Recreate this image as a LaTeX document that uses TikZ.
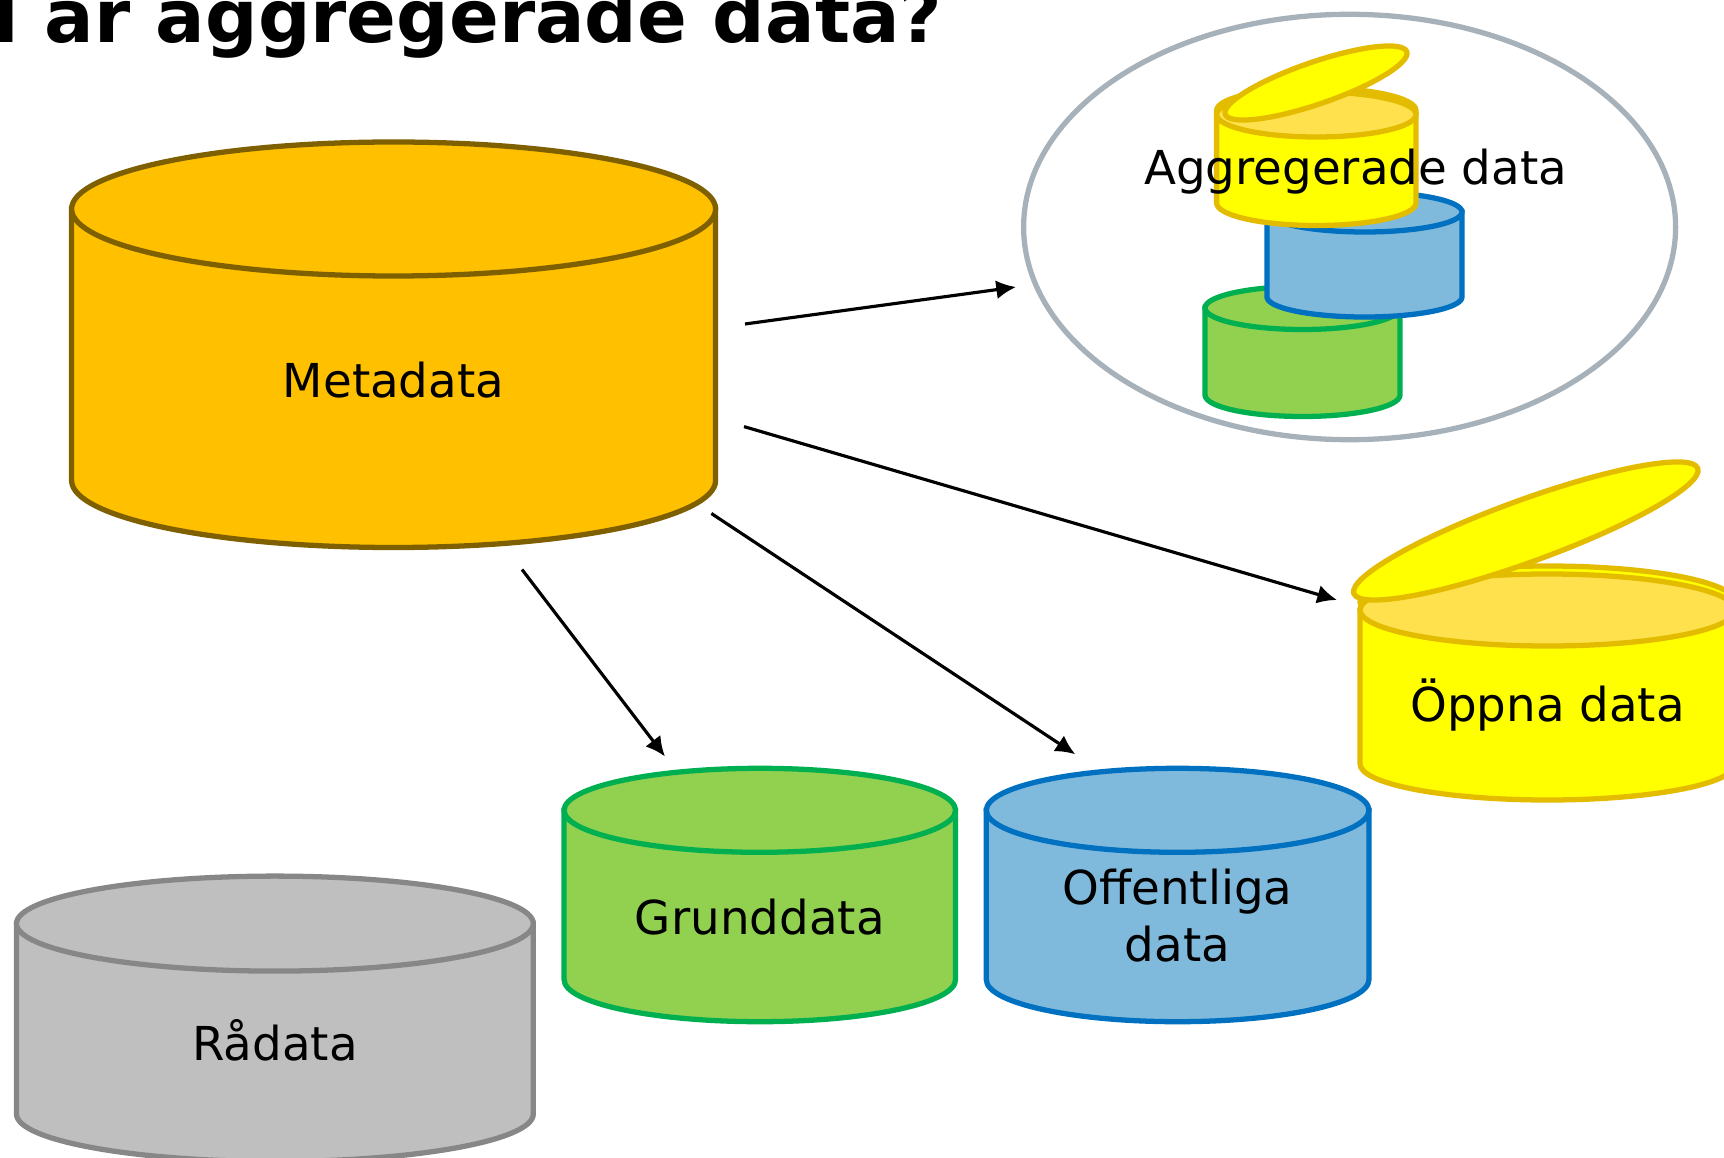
\documentclass[tikz,border=0pt]{standalone}
\usepackage{fontspec}
\setmainfont{DejaVu Sans}
\usetikzlibrary{arrows.meta}

\definecolor{metafill}{HTML}{FFC000}
\definecolor{metaedge}{HTML}{7F6000}
\definecolor{grundfill}{HTML}{92D050}
\definecolor{grundedge}{HTML}{00B050}
\definecolor{offfill}{HTML}{7FBADC}
\definecolor{offedge}{HTML}{0070C0}
\definecolor{rawfill}{HTML}{BFBFBF}
\definecolor{rawedge}{HTML}{878787}
\definecolor{openfill}{HTML}{FFFF00}
\definecolor{opentop}{HTML}{FFE14D}
\definecolor{openedge}{HTML}{E3BC00}
\definecolor{ringedge}{HTML}{A6B1BA}

% can: cx, top y, bottom y, x radius, y radius, fill, edge, top fill
\newcommand{\drum}[8]{%
	\filldraw[fill=#6, draw=#7] (#1-#4,#2) -- (#1-#4,#3)
		arc[start angle=180, end angle=360, x radius=#4, y radius=#5] -- (#1+#4,#2) -- cycle;
	\filldraw[fill=#8, draw=#7] (#1,#2) ellipse [x radius=#4, y radius=#5];
}

\begin{document}
\begin{tikzpicture}[line width=1.5pt]
	\tikzstyle{dbtext} = [font={\fontsize{13.3}{16.2}\selectfont}, inner sep=0pt];
	\tikzstyle{headline} = [font={\fontsize{20.9}{24}\selectfont\bfseries}, inner sep=0pt];
	\tikzstyle{flow} = [-{Latex[length=5.6pt, width=5.4pt]}, line width=0.9pt];
	\tikzstyle{lid} = [fill=openfill, draw=openedge];

	\useasboundingbox (0,0) rectangle (17.24,-11.58);
	\clip (0,0) rectangle (17.24,-11.58);

	\node[headline, anchor=base east] (title) at (9.45,-0.43) {Vad är aggregerade data?};

	% aggregated data
	\draw[ringedge] (13.496,-2.27) ellipse [x radius=3.26, y radius=2.127];
	\drum{13.025}{-3.08}{-3.95}{0.975}{0.215}{grundfill}{grundedge}{grundfill}
	\drum{13.645}{-2.12}{-2.97}{0.975}{0.20}{offfill}{offedge}{offfill}
	\filldraw[lid] (13.163,-1.105) ellipse [x radius=0.997, y radius=0.225];
	\drum{13.163}{-1.145}{-2.03}{0.997}{0.225}{openfill}{openedge}{opentop}
	\filldraw[lid, rotate around={19:(13.16,-0.83)}] (13.16,-0.83) ellipse [x radius=0.96, y radius=0.21];
	\node[dbtext, anchor=base] (aggr) at (13.557,-1.85) {Aggregerade data};

	% open data
	\filldraw[lid] (15.476,-6.02) ellipse [x radius=1.876, y radius=0.36];
	\drum{15.476}{-6.10}{-7.64}{1.876}{0.36}{openfill}{openedge}{opentop}
	\filldraw[lid, rotate around={20:(15.258,-5.31)}] (15.258,-5.31) ellipse [x radius=1.83, y radius=0.31];
	\node[dbtext, anchor=base] (oppen) at (15.476,-7.216) {Öppna data};

	% metadata and the rest
	\drum{3.936}{-2.09}{-4.805}{3.22}{0.67}{metafill}{metaedge}{metafill}
	\node[dbtext, anchor=base] (meta) at (3.936,-3.98) {Metadata};

	\drum{7.598}{-8.103}{-9.797}{1.957}{0.42}{grundfill}{grundedge}{grundfill}
	\node[dbtext, anchor=base] (grund) at (7.598,-9.346) {Grunddata};

	\drum{11.776}{-8.103}{-9.797}{1.913}{0.42}{offfill}{offedge}{offfill}
	\node[dbtext, align=center] (offentlig) at (11.776,-9.16) {Offentliga\\data};

	\drum{2.749}{-9.236}{-11.14}{2.584}{0.475}{rawfill}{rawedge}{rawfill}
	\node[dbtext, anchor=base] (radata) at (2.749,-10.608) {Rådata};

	% arrows out of the metadata
	\coordinate (meta-a) at (7.45,-3.24);
	\coordinate (meta-b) at (7.44,-4.266);
	\coordinate (meta-c) at (7.114,-5.135);
	\coordinate (meta-d) at (5.22,-5.695);
	\coordinate (aggr-in) at (10.16,-2.87);
	\coordinate (oppen-in) at (13.37,-6.00);
	\coordinate (offentlig-in) at (10.753,-7.543);
	\coordinate (grund-in) at (6.65,-7.565);

	\foreach \from/\to in {meta-a/aggr-in, meta-b/oppen-in, meta-c/offentlig-in, meta-d/grund-in} {
		\draw[flow] (\from) -- (\to);
	}
\end{tikzpicture}
\end{document}
